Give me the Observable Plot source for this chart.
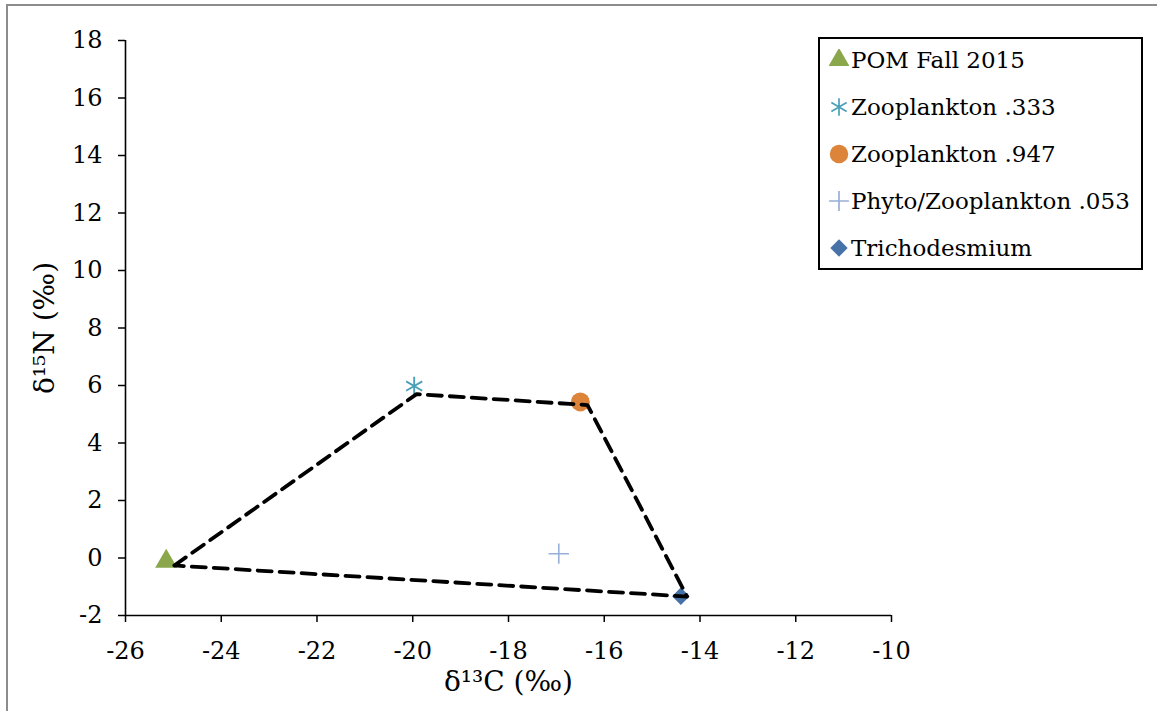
<!DOCTYPE html>
<html>
<head>
<meta charset="utf-8">
<script src="https://cdn.jsdelivr.net/npm/d3@7"></script>
<script src="https://cdn.jsdelivr.net/npm/@observablehq/plot@0.6"></script>
<style>
  html, body { margin: 0; padding: 0; background: #fff; }
  #wrap { position: relative; width: 1157px; height: 711px; overflow: hidden; }
  #frame { position: absolute; left: 6px; top: 4px; width: 1160px; height: 720px;
           border-top: 2px solid #8c8c8c; border-left: 2px solid #8c8c8c; }
  #legend { position: absolute; left: 818px; top: 37px; width: 321px; height: 229px;
            border: 2px solid #000; background: #fff; font-family: "DejaVu Serif", serif; font-size: 23px; }
  .item { position: absolute; left: 0; height: 30px; display: flex; align-items: center; white-space: nowrap; }
  .item svg { margin-left: 9px; margin-right: 2px; }
</style>
</head>
<body>
<div id="wrap">
  <div id="frame"></div>
  <div id="chart"></div>
  <div id="legend"></div>
</div>
<script>
// Series (one point each)
const series = ["POM Fall 2015", "Zooplankton .333", "Zooplankton .947", "Phyto/Zooplankton .053", "Trichodesmium"];
const carbon = [-25.15, -19.97, -16.5, -16.95, -14.4];
const nitrogen = [-0.12, 5.98, 5.43, 0.15, -1.33];
const symbols = ["triangle", "asterisk", "circle", "plus", "square"];
const colors = ["#8aa84b", "#4aa0b9", "#dd843b", "#98afd8", "#4772a8"];

// Dashed outline series
const hullC = [-24.98, -19.92, -16.35, -14.27, -24.98];
const hullN = [-0.26, 5.70, 5.32, -1.34, -0.26];

const xTicks = [-26, -24, -22, -20, -18, -16, -14, -12, -10];
const yTicks = [-2, 0, 2, 4, 6, 8, 10, 12, 14, 16, 18];

const points = series.map((s, i) => ({s, c: carbon[i], n: nitrogen[i], sym: symbols[i], col: colors[i]}));
const hull = hullC.map((c, i) => ({c, n: hullN[i]}));

const font = "DejaVu Serif, serif";
const fill = ["triangle", "circle", "square"];
const sizeOf = {triangle: 8.2, asterisk: 8.8, circle: 9.5, plus: 6.6, square: 7.0};
const fmt = d => String(d).replace("−", "-");

const chart = Plot.plot({
  width: 1157, height: 711,
  marginLeft: 125, marginRight: 266, marginTop: 40, marginBottom: 96,
  style: {fontFamily: font, fontSize: "24px", color: "#000", background: "transparent"},
  x: {domain: [-26, -10], label: null},
  y: {domain: [-2, 18], label: null},
  marks: [
    Plot.axisX({ticks: xTicks, tickSize: 7, tickPadding: 19, strokeWidth: 1.5, fontSize: 24, tickFormat: fmt}),
    Plot.axisY({ticks: yTicks, tickSize: 7, tickPadding: 16, strokeWidth: 1.5, fontSize: 24, tickFormat: fmt}),
    Plot.ruleY([-2], {stroke: "#000", strokeWidth: 1.6}),
    Plot.ruleX([-26], {stroke: "#000", strokeWidth: 1.6}),
    ...points.map(p => Plot.dot([p], {
      x: "c", y: "n", symbol: p.sym, r: sizeOf[p.sym],
      rotate: p.sym === "square" ? 45 : 0,
      fill: fill.includes(p.sym) ? p.col : "none",
      stroke: fill.includes(p.sym) ? "none" : p.col,
      strokeWidth: p.sym === "plus" ? 1.6 : 1.9
    })),
    Plot.line(hull, {x: "c", y: "n", stroke: "#000", strokeWidth: 3.8, strokeDasharray: "14,8"}),
    Plot.text(["δ¹⁵N (‰)"], {frameAnchor: "left", textAnchor: "middle", dx: -80, rotate: -90, fontSize: 28, fill: "#000"}),
    Plot.text(["δ¹³C (‰)"], {frameAnchor: "bottom", textAnchor: "middle", dy: 75, fontSize: 28, fill: "#000"})
  ]
});
chart.querySelectorAll('g[aria-label$="tick label"] text').forEach(t => t.setAttribute("font-size", "24"));
document.getElementById("chart").appendChild(chart);

// Legend
const legend = document.getElementById("legend");
const symPath = {
  triangle: d3.symbol(d3.symbolTriangle, 190)(),
  asterisk: d3.symbol(d3.symbolAsterisk, 220)(),
  circle: d3.symbol(d3.symbolCircle, 270)(),
  plus: d3.symbol(d3.symbolPlus, 130)(),
  square: d3.symbol(d3.symbolSquare, 150)()
};
points.forEach((p, i) => {
  const div = document.createElement("div");
  div.className = "item";
  div.style.top = (6 + i * 47) + "px";
  const isFill = fill.includes(p.sym);
  div.innerHTML = `<svg width="20" height="22" viewBox="-10 -11 20 22"><path d="${symPath[p.sym]}" transform="${p.sym === 'square' ? 'rotate(45)' : ''}" fill="${isFill ? p.col : 'none'}" stroke="${isFill ? 'none' : p.col}" stroke-width="1.7"/></svg><span>${p.s}</span>`;
  legend.appendChild(div);
});
</script>
</body>
</html>
